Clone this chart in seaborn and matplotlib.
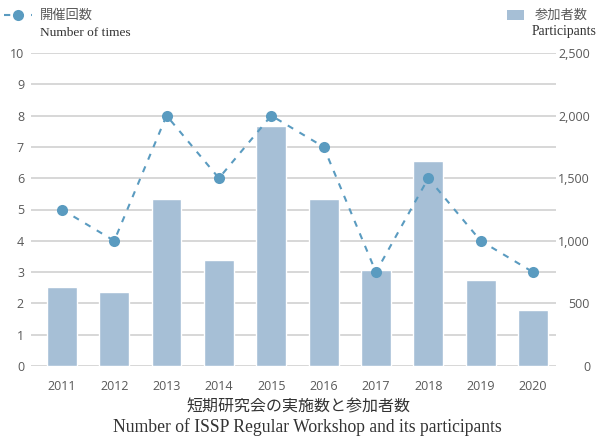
import matplotlib
matplotlib.use("Agg")
import matplotlib.pyplot as plt
from matplotlib.lines import Line2D
from matplotlib.patches import Patch
from matplotlib.ticker import MultipleLocator, FuncFormatter
import seaborn as sns
import pandas as pd

years = ["2011", "2012", "2013", "2014", "2015", "2016", "2017", "2018", "2019", "2020"]
participants = [630, 590, 1335, 850, 1920, 1335, 765, 1640, 690, 450]
times = [5, 4, 8, 6, 8, 7, 3, 6, 4, 3]

df = pd.DataFrame({"year": years, "participants": participants, "times": times})

sns.set_theme(style="white")
plt.rcParams['font.family'] = ['Open Sans', 'Noto Sans CJK JP', 'DejaVu Sans']

BAR = "#a6bfd6"
LINE = "#5a9bc0"
TICK = "#595959"
GRID = "#d4d4d4"

fig = plt.figure(figsize=(5.97, 4.37), dpi=100)
ax = fig.add_axes([31/597, 71/437, (556-31)/597, (366-53)/437])

sns.barplot(data=df, x="year", y="participants", color=BAR, width=0.57,
            saturation=1, ax=ax, zorder=2)
ax.set_ylim(0, 2500)
ax.set_xlim(-0.59, 9.44)
ax.yaxis.set_major_locator(MultipleLocator(500))
ax.yaxis.set_minor_locator(MultipleLocator(250))
ax.yaxis.set_major_formatter(FuncFormatter(lambda v, p: f"{int(v):,}"))
ax.grid(True, axis="y", which="both", color=GRID, linewidth=1.3, zorder=0)
ax.set_axisbelow(True)
ax.tick_params(axis="x", length=0, pad=10, labelsize=9, labelcolor=TICK)
ax.set_xlabel("")
ax.set_ylabel("")
for s in ax.spines.values():
    s.set_visible(False)

ax2 = ax.twinx()
sns.lineplot(x=list(range(len(years))), y=times, ax=ax2, color=LINE,
             linestyle=(0, (3, 3.5)), linewidth=1.5, marker="o", markersize=8,
             markeredgewidth=0, zorder=3)
ax2.set_ylim(0, 10)
ax2.yaxis.set_major_locator(MultipleLocator(1))
ax2.yaxis.tick_left()
ax2.tick_params(axis="y", length=0, pad=5, labelsize=9, labelcolor=TICK)
ax2.set_ylabel("")
for s in ax2.spines.values():
    s.set_visible(False)
ax2.grid(False)

# right axis labels for participants (set after twinx)
ax.yaxis.tick_right()
ax.tick_params(axis="y", which="both", left=False, labelleft=False,
               right=False, labelright=True, length=0, pad=24.5,
               labelsize=9, labelcolor=TICK)
for lab in ax.get_yticklabels(which="major"):
    lab.set_horizontalalignment("right")

# legends
h_line = Line2D([0], [0], color=LINE, linestyle=(0, (3, 3.5)), linewidth=1.5,
                marker="o", markersize=8, markeredgewidth=0)
fig.legend(handles=[h_line], labels=["開催回数"], loc="upper left",
           bbox_to_anchor=(-0.008, 1.0), frameon=False, fontsize=9.5,
           handlelength=2.1, handletextpad=0.55, borderaxespad=0.3,
           labelcolor=TICK)
fig.text(40/597, 1 - 33/437, "Number of times", family="Liberation Serif",
         fontsize=9.6, color="#333333", va="center", ha="left")

h_bar = Patch(facecolor=BAR, edgecolor="none")
fig.legend(handles=[h_bar], labels=["参加者数"], loc="upper right",
           bbox_to_anchor=(1.0, 1.0), frameon=False, fontsize=9.5,
           handlelength=1.3, handleheight=0.8, handletextpad=0.8,
           borderaxespad=0.3, labelcolor=TICK)
fig.text(1.0, 1 - 31/437, "Participants", family="Liberation Serif",
         fontsize=9.8, color="#333333", va="center", ha="right")

fig.text(298.5/597, 1 - 407/437, "短期研究会の実施数と参加者数", fontsize=11.5,
         color="#333333", ha="center", va="center",
         family=['Noto Sans CJK JP', 'DejaVu Sans'])
fig.text(307/597, 1 - 427/437, "Number of ISSP Regular Workshop and its participants",
         family="Liberation Serif", fontsize=12.7, color="#333333",
         ha="center", va="center")

fig.savefig("out.png", dpi=100)
